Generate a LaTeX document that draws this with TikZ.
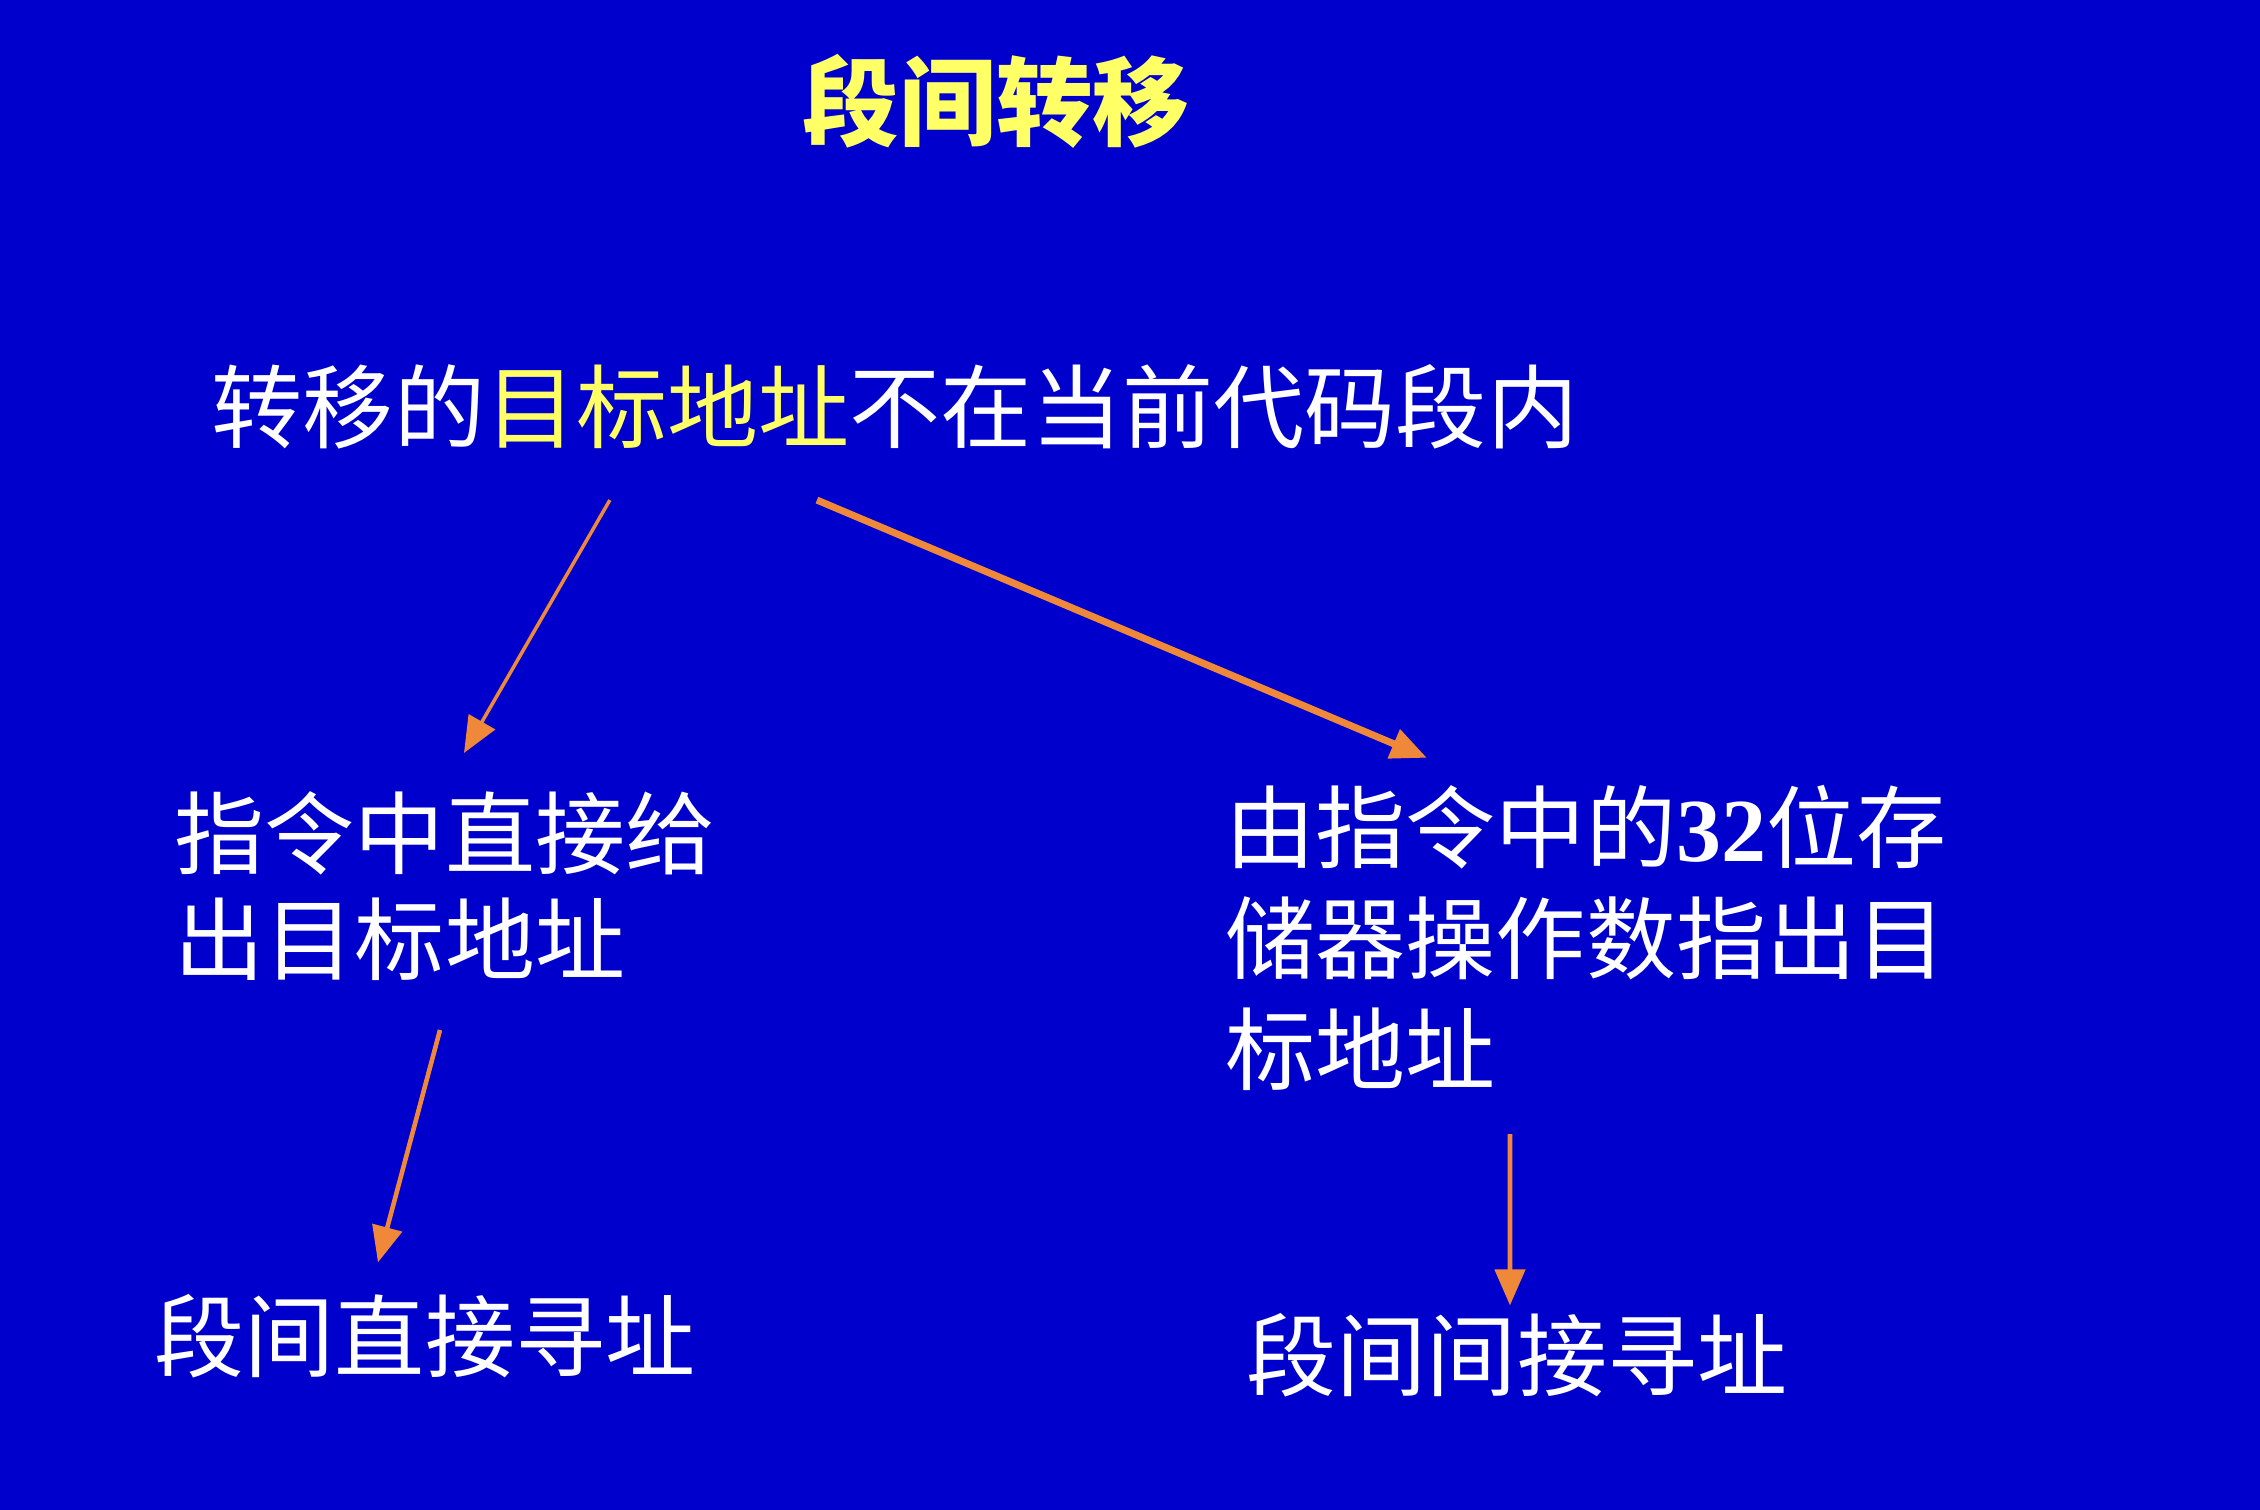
\documentclass[tikz,border=0pt]{standalone}
\usepackage{fontspec}
\setmainfont{Noto Sans CJK SC}
\newfontfamily\numfont{Liberation Serif}
\usepackage{xcolor}
\usetikzlibrary{arrows.meta, positioning}

\definecolor{slideblue}{RGB}{0,0,204}
\definecolor{titleyellow}{RGB}{255,255,102}
\definecolor{arroworange}{RGB}{240,136,58}

\begin{document}
\begin{tikzpicture}[
    x=0.01cm, y=-0.01cm,
    every node/.style={inner sep=0pt, text=white},
    heading/.style={font=\fontsize{27.5pt}{33pt}\selectfont\bfseries, text=titleyellow},
    bigtext/.style={font=\fontsize{25.9pt}{31pt}\selectfont},
    body/.style={font=\fontsize{25.6pt}{30pt}\selectfont, align=left},
    arrow/.style={-{Triangle[length=0.36cm, width=0.3cm]}, draw=arroworange, line width=1.3pt}
]
    \fill[slideblue] (0,0) rectangle (2260,1510);

    \node[heading] (title) at (996,101) {段间转移};
    \node[bigtext] (target) at (895,407) {转移的{\color{titleyellow}目标地址}不在当前代码段内};
    \node[body] (direct) at (445,886) {指令中直接给\\出目标地址};
    \node[body, font=\fontsize{25.6pt}{31.5pt}\selectfont] (indirect) at (1586,938)
        {由指令中的{\numfont\bfseries 32}位存\\储器操作数指出目\\标地址};
    \node[body] (dirmode) at (425,1336) {段间直接寻址};
    \node[body] (indmode) at (1517,1355) {段间间接寻址};

    \draw[arrow, line width=1pt] ([xshift=-2.85cm, yshift=-0.50cm]target.south) -- ([xshift=0.19cm, yshift=0.38cm]direct.north);
    \draw[arrow, line width=2pt] ([xshift=-0.78cm, yshift=-0.50cm]target.south) -- ([xshift=-1.59cm, yshift=0.27cm]indirect.north);
    \draw[arrow] ([xshift=-0.05cm, yshift=-0.49cm]direct.south) -- ([xshift=-0.47cm, yshift=0.31cm]dirmode.north);
    \draw[arrow] ([xshift=-0.76cm, yshift=-0.43cm]indirect.south) -- ([xshift=-0.07cm, yshift=0.07cm]indmode.north);
\end{tikzpicture}
\end{document}
